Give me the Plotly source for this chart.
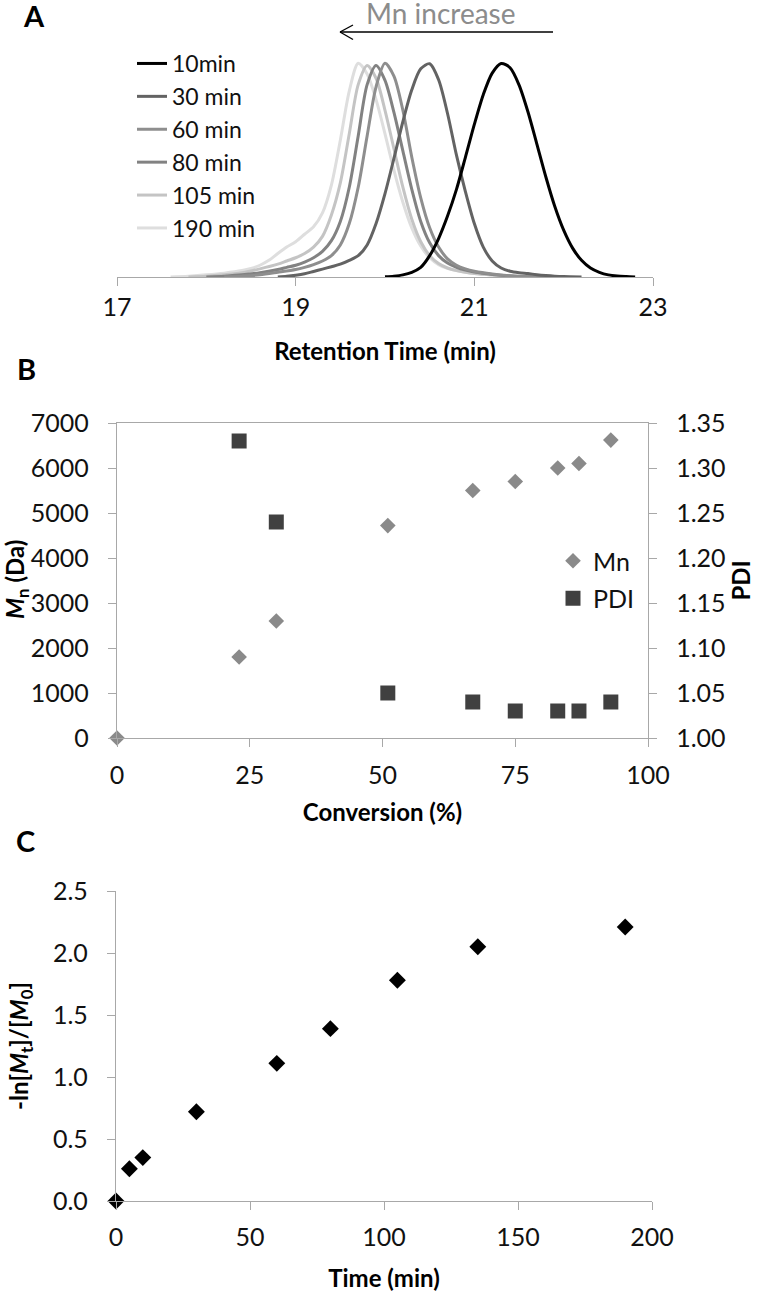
import plotly.graph_objects as go

W, H = 760, 1293
FONT = "Lato"

# ---------------- Panel A: GPC traces (normalised signal vs retention time) ----------------
rt_10min = [20.0, 20.1, 20.2, 20.3, 20.4, 20.5, 20.6, 20.7, 20.8, 20.9, 21.0, 21.1, 21.2, 21.3, 21.4,
            21.5, 21.6, 21.7, 21.8, 21.9, 22.0, 22.1, 22.2, 22.3, 22.4, 22.5, 22.6, 22.7, 22.8]
sig_10min = [0.001, 0.004, 0.010, 0.022, 0.045, 0.10, 0.18, 0.285, 0.41, 0.56, 0.714, 0.853, 0.954, 0.999, 0.979,
             0.899, 0.773, 0.622, 0.469, 0.331, 0.219, 0.135, 0.078, 0.042, 0.022, 0.010, 0.0046, 0.0019, 0.0]

rt_30min = [18.8, 18.9, 19.0, 19.1, 19.2, 19.3, 19.4, 19.5, 19.6, 19.7, 19.8, 19.9, 20.0, 20.1, 20.2, 20.3,
            20.4, 20.5, 20.6, 20.7, 20.8, 20.9, 21.0, 21.1, 21.2, 21.3, 21.4, 21.5, 21.6, 21.7, 21.8,
            21.9, 22.0, 22.2]
sig_30min = [0.0, 0.003, 0.008, 0.015, 0.026, 0.037, 0.048, 0.060, 0.078, 0.10, 0.15, 0.25, 0.39, 0.555, 0.727,
             0.876, 0.974, 0.998, 0.923, 0.765, 0.57, 0.40, 0.25, 0.14, 0.075, 0.042, 0.027, 0.02, 0.016,
             0.011, 0.007, 0.004, 0.002, 0.0]

rt_60min = [18.2, 18.4, 18.6, 18.8, 19.0, 19.1, 19.2, 19.3, 19.4, 19.5, 19.6, 19.7, 19.8, 19.9, 20.0,
            20.1, 20.2, 20.3, 20.4, 20.5, 20.6, 20.7, 20.8, 20.9, 21.0, 21.2, 21.4, 21.6, 21.8]
sig_60min = [0.0, 0.004, 0.01, 0.022, 0.035, 0.045, 0.058, 0.075, 0.10, 0.15, 0.25, 0.42, 0.66, 0.89, 1.0,
             0.94, 0.78, 0.56, 0.37, 0.23, 0.14, 0.085, 0.055, 0.038, 0.027, 0.014, 0.006, 0.002, 0.0]

rt_80min = [18.0, 18.2, 18.4, 18.6, 18.8, 18.9, 19.0, 19.1, 19.2, 19.3, 19.4, 19.5, 19.6, 19.7, 19.8,
            19.9, 20.0, 20.1, 20.2, 20.3, 20.4, 20.5, 20.6, 20.7, 20.8, 20.9, 21.0, 21.2, 21.4, 21.6, 21.8]
sig_80min = [0.0, 0.004, 0.01, 0.02, 0.035, 0.045, 0.055, 0.07, 0.09, 0.12, 0.17, 0.26, 0.42, 0.66, 0.90,
             0.99, 0.92, 0.77, 0.59, 0.41, 0.26, 0.16, 0.10, 0.065, 0.045, 0.032, 0.023, 0.012, 0.005, 0.001, 0.0]

rt_105min = [17.8, 18.0, 18.2, 18.4, 18.6, 18.8, 18.9, 19.0, 19.1, 19.2, 19.3, 19.4, 19.5, 19.6, 19.7,
             19.8, 19.9, 20.0, 20.1, 20.2, 20.3, 20.4, 20.5, 20.6, 20.7, 20.8, 20.9, 21.0, 21.2, 21.4, 21.6, 21.8]
sig_105min = [0.0, 0.004, 0.01, 0.02, 0.038, 0.06, 0.075, 0.09, 0.11, 0.14, 0.19, 0.29, 0.44, 0.67, 0.90,
              0.99, 0.93, 0.78, 0.60, 0.42, 0.27, 0.165, 0.10, 0.063, 0.042, 0.03, 0.022, 0.016, 0.009, 0.004,
              0.001, 0.0]

rt_190min = [17.6, 17.8, 18.0, 18.2, 18.4, 18.5, 18.6, 18.7, 18.8, 18.9, 19.0, 19.1, 19.2, 19.3, 19.4,
             19.5, 19.6, 19.7, 19.8, 19.9, 20.0, 20.1, 20.2, 20.3, 20.4, 20.5, 20.6, 20.7, 20.8, 20.9,
             21.0, 21.2, 21.4, 21.6, 21.8]
sig_190min = [0.0, 0.004, 0.01, 0.018, 0.03, 0.04, 0.055, 0.078, 0.11, 0.14, 0.165, 0.20, 0.235, 0.30, 0.43,
              0.64, 0.87, 1.0, 0.95, 0.83, 0.67, 0.50, 0.35, 0.23, 0.145, 0.09, 0.058, 0.04, 0.03, 0.022,
              0.016, 0.01, 0.005, 0.002, 0.0]

trace_labels = ["10min", "30 min", "60 min", "80 min", "105 min", "190 min"]
trace_colors = ["#000000", "#636363", "#8e8e8e", "#828282", "#c4c4c4", "#dedede"]
rt_ticks = [17, 19, 21, 23]

# ---------------- Panel B: Mn and PDI vs conversion ----------------
conversion_mn = [0, 23, 30, 51, 67, 75, 83, 87, 93]
mn_values = [0, 1800, 2600, 4720, 5500, 5700, 6000, 6100, 6620]
conversion_pdi = [23, 30, 51, 67, 75, 83, 87, 93]
pdi_values = [1.33, 1.24, 1.05, 1.04, 1.03, 1.03, 1.03, 1.04]

# ---------------- Panel C: kinetics ----------------
time_min = [0, 5, 10, 30, 60, 80, 105, 135, 190]
ln_ratio = [0.0, 0.26, 0.35, 0.72, 1.11, 1.39, 1.78, 2.05, 2.21]


def px_x(p):
    return p / W


def px_y(p):
    return 1 - p / H


fig = go.Figure()

series_a = [(rt_10min, sig_10min), (rt_30min, sig_30min), (rt_60min, sig_60min),
            (rt_80min, sig_80min), (rt_105min, sig_105min), (rt_190min, sig_190min)]
# draw lightest first so darker lines sit on top, but keep legend order
for i in list(range(6))[::-1]:
    xs, ys = series_a[i]
    fig.add_trace(go.Scatter(
        x=xs, y=ys, mode="lines", name=trace_labels[i],
        line=dict(color=trace_colors[i], width=3, shape="spline", smoothing=0.8),
        xaxis="x", yaxis="y", legend="legend", legendrank=i + 1,
        showlegend=True, cliponaxis=False,
    ))

fig.add_trace(go.Scatter(
    x=conversion_mn, y=mn_values, mode="markers", name="Mn",
    marker=dict(symbol="diamond", size=12, color="#8a8a8a"),
    xaxis="x2", yaxis="y2", legend="legend2", legendgroup="mn", cliponaxis=False,
))
fig.add_trace(go.Scatter(
    x=conversion_pdi, y=pdi_values, mode="markers", name="PDI",
    marker=dict(symbol="square", size=15, color="#404040"),
    xaxis="x2", yaxis="y3", legend="legend2", legendgroup="pdi", cliponaxis=False,
))

fig.add_trace(go.Scatter(
    x=time_min, y=ln_ratio, mode="markers", name="kinetics",
    marker=dict(symbol="diamond", size=13, color="#000000"),
    xaxis="x3", yaxis="y4", showlegend=False, cliponaxis=False,
))

AXIS_COLOR = "#a8a8a8"
TICK_FONT = dict(family=FONT, size=25, color="#111111")
TITLE_FONT = dict(family=FONT, size=24, color="#000000")

common_axis = dict(showgrid=False, zeroline=False, showline=True, linecolor=AXIS_COLOR, linewidth=1.3,
                   ticks="outside", tickcolor=AXIS_COLOR, ticklen=8, tickwidth=1.3, tickfont=TICK_FONT,
                   automargin=False)

fig.update_layout(
    template="none",
    width=W, height=H,
    margin=dict(l=0, r=0, t=0, b=0, autoexpand=False),
    paper_bgcolor="white", plot_bgcolor="white",
    font=dict(family=FONT, color="#000000"),
    xaxis=dict(domain=[px_x(117), px_x(653)], anchor="y", range=[17, 23], tickvals=rt_ticks,
               title=dict(text="<b>Retention Time (min)</b>", font=TITLE_FONT, standoff=23),
               ticklabelstandoff=0, **common_axis),
    yaxis=dict(domain=[px_y(277), px_y(59)], anchor="x", range=[0, 1.02], visible=False),
    xaxis2=dict(domain=[px_x(117), px_x(648)], anchor="y2", range=[0, 100], dtick=25, mirror=True,
                title=dict(text="<b>Conversion (%)</b>", font=TITLE_FONT, standoff=16),
                ticklabelstandoff=7, **common_axis),
    yaxis2=dict(domain=[px_y(738), px_y(423)], anchor="x2", range=[0, 7000], dtick=1000,
                ticklabelstandoff=14, **common_axis),
    yaxis3=dict(domain=[px_y(738), px_y(423)], anchor="x2", overlaying="y2", side="right",
                range=[1.0, 1.35], dtick=0.05, tickformat=".2f",
                title=dict(text="<b>PDI</b>", font=TITLE_FONT, standoff=6),
                ticklabelstandoff=14, **common_axis),
    xaxis3=dict(domain=[px_x(116), px_x(652)], anchor="y4", range=[0, 200], dtick=50,
                title=dict(text="<b>Time (min)</b>", font=TITLE_FONT, standoff=20),
                ticklabelstandoff=6, **common_axis),
    yaxis4=dict(domain=[px_y(1201), px_y(891)], anchor="x3", range=[0, 2.5], dtick=0.5, tickformat=".1f",
                ticklabelstandoff=14, **common_axis),
    legend=dict(x=px_x(132), y=px_y(42), xanchor="left", yanchor="top",
                font=dict(family=FONT, size=23, color="#111111"), bgcolor="rgba(0,0,0,0)",
                traceorder="normal", itemwidth=30),
    legend2=dict(x=px_x(553), y=px_y(538), xanchor="left", yanchor="top",
                 font=dict(family=FONT, size=25, color="#111111"), bgcolor="rgba(0,0,0,0)",
                 tracegroupgap=2),
    showlegend=True,
)

# rotated y-axis titles for panels B and C
fig.add_annotation(text="<b><i>M</i><sub>n</sub> (Da)</b>", x=px_x(16), y=px_y(580), xref="paper", yref="paper",
                   xanchor="center", yanchor="middle", textangle=-90, showarrow=False, font=TITLE_FONT)
fig.add_annotation(text="<b>-ln[<i>M</i><sub>t</sub>]/[<i>M</i><sub>0</sub>]</b>", x=px_x(20), y=px_y(1046),
                   xref="paper", yref="paper", xanchor="center", yanchor="middle", textangle=-90,
                   showarrow=False, font=TITLE_FONT)

# panel letters
for letter, (cx, cy) in zip(["A", "B", "C"], [(34, 16), (26, 368), (25, 840)]):
    fig.add_annotation(text=f"<b>{letter}</b>", x=px_x(cx), y=px_y(cy), xref="paper", yref="paper",
                       xanchor="center", yanchor="middle", showarrow=False,
                       font=dict(family=FONT, size=29, color="#000000"))

# Mn increase label and arrow
fig.add_annotation(text="Mn increase", x=px_x(441), y=px_y(13), xref="paper", yref="paper",
                   xanchor="center", yanchor="middle", showarrow=False,
                   font=dict(family=FONT, size=28, color="#8c8c8c"))
arrow_line = dict(color="#000000", width=1.4)
fig.add_shape(type="line", xref="paper", yref="paper", x0=px_x(553), y0=px_y(32), x1=px_x(340), y1=px_y(32),
              line=arrow_line)
fig.add_shape(type="line", xref="paper", yref="paper", x0=px_x(340), y0=px_y(32), x1=px_x(353), y1=px_y(25),
              line=arrow_line)
fig.add_shape(type="line", xref="paper", yref="paper", x0=px_x(340), y0=px_y(32), x1=px_x(353), y1=px_y(39.5),
              line=arrow_line)

# remove the default 8px page margin so the figure fills the 760x1293 window exactly
fig.write_html("out.html", config={"displayModeBar": False},
               post_script="document.body.style.margin='0px';")
